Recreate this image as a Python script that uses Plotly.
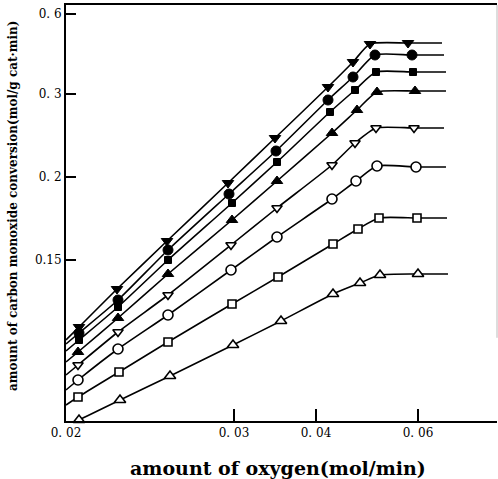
import plotly.graph_objects as go

# Axis units: the printed axes are not uniformly scaled, so values are kept in
# the chart's own axis units, with the printed labels placed at their ticks.
X_TICK_VALS = [0.0, 16.8, 25.0, 35.2]
X_TICK_TEXT = ["0. 02", "0. 03", "0. 04", "0. 06"]
Y_TICK_VALS = [16.1, 24.4, 32.7, 40.7]
Y_TICK_TEXT = ["0.15", "0. 2", "0. 3", "0. 6"]

X_RANGE = [0, 43.1]
Y_RANGE = [0, 41.6]

# series readings: marker x, marker y, curve start y (at left axis), curve end (x, y)
s_tri_down_filled = dict(
    x=[1.3, 5.1, 10.1, 16.2, 20.9, 26.2, 28.7, 30.4, 34.2],
    y=[9.4, 13.2, 18.0, 23.8, 28.3, 33.4, 35.9, 37.7, 37.8],
    start=8.1, end=(37.6, 37.8))
s_circle_filled = dict(
    x=[1.3, 5.2, 10.2, 16.3, 21.0, 26.2, 28.7, 30.9, 34.6],
    y=[8.8, 12.1, 17.1, 22.7, 27.0, 32.1, 34.4, 36.6, 36.6],
    start=7.7, end=(37.8, 36.6))
s_square_filled = dict(
    x=[1.3, 5.2, 10.2, 16.6, 21.1, 26.4, 28.9, 31.0, 34.7],
    y=[8.1, 11.4, 16.1, 21.8, 25.9, 30.9, 33.1, 34.9, 34.9],
    start=7.0, end=(38.0, 34.9))
s_tri_up_filled = dict(
    x=[1.2, 5.2, 10.2, 16.6, 21.1, 26.6, 29.1, 31.1, 34.9],
    y=[6.9, 10.3, 14.7, 20.1, 24.0, 28.8, 31.1, 32.9, 33.0],
    start=5.9, end=(38.0, 33.0))
s_tri_down_open = dict(
    x=[1.2, 5.2, 10.2, 16.5, 21.1, 26.6, 28.9, 31.0, 34.8],
    y=[5.6, 8.9, 12.6, 17.6, 21.3, 25.6, 27.8, 29.3, 29.3],
    start=4.6, end=(37.8, 29.3))
s_circle_open = dict(
    x=[1.2, 5.2, 10.2, 16.5, 21.1, 26.6, 29.0, 31.1, 35.0],
    y=[4.1, 7.2, 10.6, 15.1, 18.4, 22.2, 24.0, 25.5, 25.4],
    start=3.1, end=(38.0, 25.4))
s_square_open = dict(
    x=[1.2, 5.3, 10.2, 16.6, 21.2, 26.7, 29.2, 31.3, 35.1],
    y=[2.4, 4.9, 7.9, 11.7, 14.4, 17.7, 19.2, 20.3, 20.3],
    start=1.6, end=(38.1, 20.3))
s_tri_up_open = dict(
    x=[1.3, 5.4, 10.4, 16.7, 21.5, 26.7, 29.4, 31.4, 35.2],
    y=[0.1, 2.1, 4.5, 7.6, 10.0, 12.7, 13.8, 14.6, 14.7],
    start=-0.6, end=(38.2, 14.7))

series = [
    (s_tri_down_filled, "triangle-down", 10, True),
    (s_circle_filled, "circle", 10, True),
    (s_square_filled, "square", 7, True),
    (s_tri_up_filled, "triangle-up", 10, True),
    (s_tri_down_open, "triangle-down-open", 9, False),
    (s_circle_open, "circle-open", 10, False),
    (s_square_open, "square-open", 8, False),
    (s_tri_up_open, "triangle-up-open", 10, False),
]

fig = go.Figure()
for s, sym, size, filled in series:
    lx = [X_RANGE[0]] + s["x"] + [s["end"][0]]
    ly = [s["start"]] + s["y"] + [s["end"][1]]
    fig.add_trace(go.Scatter(x=lx, y=ly, mode="lines",
                             line=dict(color="black", width=1.6, shape="spline", smoothing=0.6),
                             hoverinfo="skip", showlegend=False))
for s, sym, size, filled in series:
    if filled:
        mk = dict(symbol=sym, size=size, color="black", line=dict(color="black", width=1))
    else:
        mk = dict(symbol=sym.replace("-open", ""), size=size, color="white",
                  line=dict(color="black", width=1.6))
    fig.add_trace(go.Scatter(x=s["x"], y=s["y"], mode="markers", marker=mk,
                             cliponaxis=False, showlegend=False))

fig.update_layout(
    width=498, height=479,
    margin=dict(l=66, r=1, t=5, b=58),
    plot_bgcolor="white", paper_bgcolor="white",
    font=dict(family="DejaVu Serif", color="black", size=12),
    xaxis=dict(range=X_RANGE, tickvals=X_TICK_VALS, ticktext=X_TICK_TEXT,
               ticks="inside", ticklen=12, tickwidth=1.5, tickcolor="black",
               showline=True, linecolor="black", linewidth=2, mirror=True,
               showgrid=False, zeroline=False, tickfont=dict(size=12)),
    yaxis=dict(range=Y_RANGE, tickvals=Y_TICK_VALS, ticktext=Y_TICK_TEXT,
               ticks="inside", ticklen=10, tickwidth=1.5, tickcolor="black",
               showline=True, linecolor="black", linewidth=2,
               showgrid=False, zeroline=False, tickfont=dict(size=12)),
    shapes=[dict(type="line", xref="paper", yref="paper", x0=1, x1=1, y0=0.2, y1=1,
                 line=dict(color="#bbbbbb", width=1))],
    annotations=[
        dict(text="<b>amount of oxygen(mol/min)</b>", xref="paper", yref="paper",
             x=(278 - 66) / 431, y=-(468 - 421) / 416, xanchor="center", yanchor="middle",
             showarrow=False, font=dict(size=19, family="DejaVu Serif")),
        dict(text="<b>amount of carbon monoxide conversion(mol/g cat·min)</b>",
             xref="paper", yref="paper", x=(13 - 66) / 431, y=(421 - 206) / 416,
             xanchor="center", yanchor="middle", textangle=-90, showarrow=False,
             font=dict(size=12, family="DejaVu Serif")),
    ],
)

fig.write_html("out.html")
